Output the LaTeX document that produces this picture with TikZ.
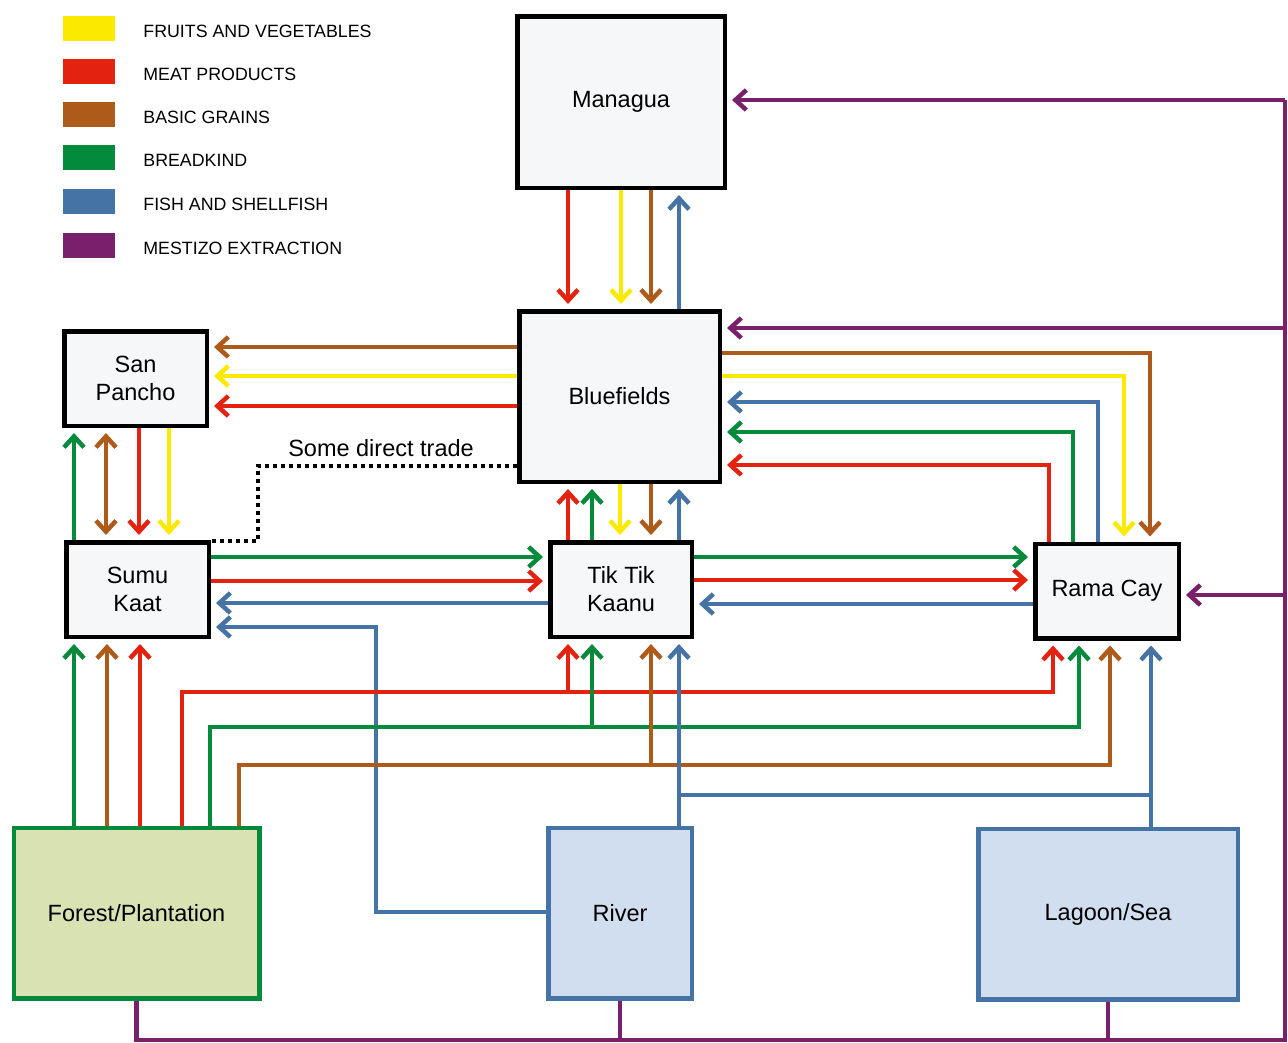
\documentclass[tikz,border=0pt]{standalone}
\usepackage{fontspec}
\setmainfont{Liberation Sans}
\usepackage{tikz}
\usetikzlibrary{arrows.meta,calc,positioning}
\definecolor{fruit}{HTML}{FCE900}
\definecolor{meat}{HTML}{E3230F}
\definecolor{grain}{HTML}{AE5A1A}
\definecolor{bread}{HTML}{038A3A}
\definecolor{fish}{HTML}{4673A5}
\definecolor{extract}{HTML}{7A1F6C}
\definecolor{boxfill}{HTML}{F6F7F9}
\definecolor{landfill}{HTML}{D8E2B3}
\definecolor{waterfill}{HTML}{D0DEEF}
\tikzset{town/.style={draw=black,line width=4.5pt,fill=boxfill,align=center,font=\fontsize{23.5}{28}\selectfont,inner sep=0pt,minimum height=94.5pt},source/.style={line width=4.5pt,align=center,font=\fontsize{23.5}{28}\selectfont,inner sep=0pt,minimum height=170.5pt},flow/.style={line width=4.5pt,-{Straight Barb[length=11pt,width=20pt]},shorten >=5pt},both/.style={line width=4.5pt,{Straight Barb[length=11pt,width=20pt]}-{Straight Barb[length=11pt,width=20pt]},shorten >=5pt,shorten <=5pt},plain/.style={line width=4.5pt},direct/.style={line width=4.5pt,dash pattern=on 4pt off 4pt},swatch/.style={minimum width=52pt,minimum height=25pt,inner sep=0pt},keytext/.style={font=\fontsize{17.8}{20}\selectfont,inner sep=0pt,anchor=west}}

\begin{document}
\begin{tikzpicture}[x=1pt,y=-1pt]
 \useasboundingbox (0,0) rectangle (1288,1042);
 % key
 \foreach \c/\t/\y [count=\i] in {fruit/FRUITS AND VEGETABLES/28.5,meat/MEAT PRODUCTS/71.5,grain/BASIC GRAINS/114.5,bread/BREADKIND/157.5,fish/FISH AND SHELLFISH/201.5,extract/MESTIZO EXTRACTION/245.5}{\node[swatch,fill=\c] (key\i) at (89,\y) {}; \node[keytext,right=28pt of key\i,yshift=-2.5pt] (keylab\i) {\t};}
 % places
 \node[town,minimum width=207.5pt,minimum height=171.5pt] (mana) at (621,102) {Managua};
 \node[town,minimum width=200.5pt,minimum height=170.5pt] (blue) at (619.5,396.5) {Bluefields};
 \node[town,minimum width=142.5pt] (sanp) at (135.5,378.5) {San\\Pancho};
 \node[town,minimum width=142.5pt] (sumu) at (137.5,589.5) {Sumu\\Kaat};
 \node[town,minimum width=141.5pt] (tikt) at (621,589.5) {Tik Tik\\Kaanu};
 \node[town,minimum width=143.5pt] (rama) at (1107,591) {Rama Cay};
 \node[source,draw=bread,fill=landfill,minimum width=245.5pt] (forest) at (136.5,913) {Forest/Plantation};
 \node[source,draw=fish,fill=waterfill,minimum width=143.5pt] (river) at (620,913) {River};
 \node[source,draw=fish,fill=waterfill,minimum width=259.5pt] (lagoon) at (1108,914) {Lagoon/Sea};
 \node[font=\fontsize{23.5}{28}\selectfont,inner sep=0pt] (tradelab) at (381,448) {Some direct trade};
 \coordinate (rim) at (1285,1040); \coordinate (meatbus) at (0,692); \coordinate (breadbus) at (0,727); \coordinate (grainbus) at (0,765); \coordinate (fishbus) at (0,795);
 % Managua and Bluefields
 \draw[flow,meat] (568,0 |- mana.south) -- (568,0 |- blue.north);
 \draw[flow,fruit] (621,0 |- mana.south) -- (621,0 |- blue.north);
 \draw[flow,grain] (651,0 |- mana.south) -- (651,0 |- blue.north);
 \draw[flow,fish] (679,0 |- blue.north) -- (679,0 |- mana.south);
 % extraction
 \draw[plain,extract] (forest.south) |- (rim) -- (rim |- 0,100);
 \draw[plain,extract] (river.south) -- (river.south |- rim); \draw[plain,extract] (lagoon.south) -- (lagoon.south |- rim);
 \draw[flow,extract] (rim |- 0,100) -- (mana.east |- 0,100);
 \draw[flow,extract] (rim |- 0,328) -- (blue.east |- 0,328);
 \draw[flow,extract] (rim |- 0,595) -- (rama.east |- 0,595);
 % Bluefields and San Pancho
 \draw[flow,grain] (blue.west |- 0,347) -- (sanp.east |- 0,347);
 \draw[flow,fruit] (blue.west |- 0,376) -- (sanp.east |- 0,376);
 \draw[flow,meat] (blue.west |- 0,406) -- (sanp.east |- 0,406);
 % Bluefields and Rama Cay
 \draw[flow,grain] (blue.east |- 0,353) -| (1150,0 |- rama.north);
 \draw[flow,fruit] (blue.east |- 0,376) -| (1124,0 |- rama.north);
 \draw[flow,fish] (1098,0 |- rama.north) |- (blue.east |- 0,402);
 \draw[flow,bread] (1073,0 |- rama.north) |- (blue.east |- 0,432);
 \draw[flow,meat] (1049,0 |- rama.north) |- (blue.east |- 0,465);
 % Bluefields and Tik Tik Kaanu
 \draw[flow,meat] (568,0 |- tikt.north) -- (568,0 |- blue.south);
 \draw[flow,bread] (592,0 |- tikt.north) -- (592,0 |- blue.south);
 \draw[flow,fruit] (620,0 |- blue.south) -- (620,0 |- tikt.north);
 \draw[flow,grain] (651,0 |- blue.south) -- (651,0 |- tikt.north);
 \draw[flow,fish] (679,0 |- tikt.north) -- (679,0 |- blue.south);
 % San Pancho and Sumu Kaat
 \draw[flow,bread] (74,0 |- sumu.north) -- (74,0 |- sanp.south);
 \draw[both,grain] (106,0 |- sumu.north) -- (106,0 |- sanp.south);
 \draw[flow,meat] (139,0 |- sanp.south) -- (139,0 |- sumu.north);
 \draw[flow,fruit] (169,0 |- sanp.south) -- (169,0 |- sumu.north);
 \draw[direct] (blue.west |- 0,466) -- (258,466) |- (sumu.east |- 0,541);
 % along the middle row
 \draw[flow,bread] (sumu.east |- 0,557) -- (tikt.west |- 0,557);
 \draw[flow,meat] (sumu.east |- 0,581) -- (tikt.west |- 0,581);
 \draw[flow,fish] (tikt.west |- 0,603) -- (sumu.east |- 0,603);
 \draw[flow,bread] (tikt.east |- 0,557) -- (rama.west |- 0,557);
 \draw[flow,meat] (tikt.east |- 0,580) -- (rama.west |- 0,580);
 \draw[flow,fish] (rama.west |- 0,604) -- (tikt.east |- 0,604);
 \draw[flow,fish] (river.west |- 0,912) -- (376,912) |- (sumu.east |- 0,627);
 % from the land
 \draw[flow,bread] (74,0 |- forest.north) -- (74,0 |- sumu.south);
 \draw[flow,grain] (107,0 |- forest.north) -- (107,0 |- sumu.south);
 \draw[flow,meat] (140,0 |- forest.north) -- (140,0 |- sumu.south);
 \draw[flow,meat] (182,0 |- forest.north) |- (1053,0 |- meatbus) -- (1053,0 |- rama.south);
 \draw[flow,meat] (568,0 |- meatbus) -- (568,0 |- tikt.south);
 \draw[flow,bread] (210,0 |- forest.north) |- (1079,0 |- breadbus) -- (1079,0 |- rama.south);
 \draw[flow,bread] (592,0 |- breadbus) -- (592,0 |- tikt.south);
 \draw[flow,grain] (239,0 |- forest.north) |- (1110,0 |- grainbus) -- (1110,0 |- rama.south);
 \draw[flow,grain] (651,0 |- grainbus) -- (651,0 |- tikt.south);
 % from the water
 \draw[flow,fish] (679,0 |- river.north) -- (679,0 |- tikt.south);
 \draw[flow,fish] (1151,0 |- lagoon.north) -- (1151,0 |- rama.south);
 \draw[plain,fish] (679,0 |- fishbus) -- (1151,0 |- fishbus);
\end{tikzpicture}
\end{document}
